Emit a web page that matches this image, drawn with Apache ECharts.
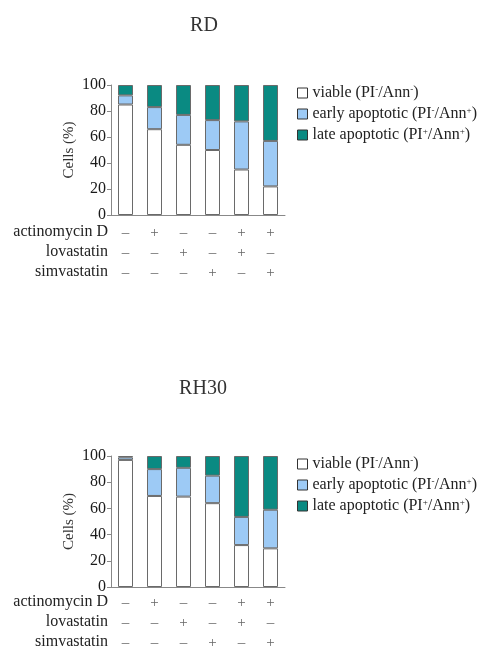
<!DOCTYPE html>
<html><head><meta charset="utf-8">
<script src="https://cdn.jsdelivr.net/npm/echarts@6/dist/echarts.min.js"></script>
<style>html,body{margin:0;padding:0;background:#fff}#c{width:481px;height:653px}</style>
</head><body><div id="c"></div>
<script>
const categories = ['1','2','3','4','5','6'];
const actinomycin = ['–','+','–','–','+','+'];
const lovastatin  = ['–','–','+','–','+','–'];
const simvastatin = ['–','–','–','+','–','+'];
const rowNames = ['actinomycin D','lovastatin','simvastatin'];
const yTicks = [0,20,40,60,80,100];
const titles = ['RD','RH30'];
const seriesNames = ['viable','early','late'];
// RD
const rdViable = [85,66,54,50,35,22];
const rdEarly  = [7,17,23,23,37,35];
const rdLate   = [8,17,23,27,28,43];
// RH30
const rhViable = [97,69.5,69,64,32,29.5];
const rhEarly  = [2,20.5,22,21,21.5,29.5];
const rhLate   = [1,10,9,15,46.5,41];

const FONT = '"Liberation Serif","Times New Roman",serif';
const colors = ['#ffffff','#9dcaf5','#0a8a82'];
const chart = echarts.init(document.getElementById('c'));

const gridTops = [85, 456];
const gridH = [130, 131];
const grids = gridTops.map((t,i)=>({left:111, width:174, top:t, height:gridH[i]}));

const xAxes = grids.map((g,i)=>({
  type:'category', gridIndex:i, data:categories,
  axisLine:{lineStyle:{color:'#888',width:1}},
  axisTick:{show:false},
  axisLabel:{
    margin: i===0?8:6, interval:0,
    fontFamily:FONT, fontSize:15, color:'#666', lineHeight:20,
    formatter:(v,idx)=>[actinomycin[idx],lovastatin[idx],simvastatin[idx]].join('\n')
  }
}));
const yAxes = grids.map((g,i)=>({
  type:'value', gridIndex:i, min:0, max:100, interval:20,
  name:'Cells (%)', nameLocation:'middle', nameGap:34, nameRotate:90,
  nameTextStyle:{fontFamily:FONT, fontSize:15, color:'#333'},
  axisLine:{show:true, lineStyle:{color:'#888'}},
  axisTick:{show:true, length:4, lineStyle:{color:'#888'}},
  splitLine:{show:false},
  axisLabel:{fontFamily:FONT, fontSize:16, color:'#1a1a1a', margin:5,
    formatter:v=>yTicks.includes(v)?String(v):''}
}));

const data = [[rdViable,rdEarly,rdLate],[rhViable,rhEarly,rhLate]];
const series = [];
data.forEach((set,gi)=>{
  set.forEach((vals,si)=>{
    series.push({
      type:'bar', name:seriesNames[si], stack:'s'+gi,
      xAxisIndex:gi, yAxisIndex:gi, data:vals, barWidth:15,
      itemStyle:{color:colors[si], borderColor:'#6a6a6a', borderWidth:1},
      emphasis:{disabled:true}
    });
  });
});

const rich = {
  n:{fontFamily:FONT, fontSize:16, color:'#222'},
  s:{fontFamily:FONT, fontSize:9, color:'#222', verticalAlign:'top', padding:[0,0,6,0]}
};
const legendFmt = {
  viable:'{n|viable (PI}{s|-}{n|/Ann}{s|-}{n|)}',
  early:'{n|early apoptotic (PI}{s|-}{n|/Ann}{s|+}{n|)}',
  late:'{n|late apoptotic (PI}{s|+}{n|/Ann}{s|+}{n|)}'
};
const legends = gridTops.map((t,i)=>({
  orient:'vertical', left:292, top:t-5, itemWidth:10, itemHeight:10, itemGap:5,
  icon:'rect', selectedMode:false,
  data:seriesNames,
  itemStyle:{borderColor:'#333', borderWidth:1},
  formatter:n=>legendFmt[n],
  textStyle:{rich:rich}
}));

const titleOpts = [{text:titles[0], left:199, top:11}, {text:titles[1], left:198, top:374}].map(o=>({
  text:o.text, left:o.left, top:o.top, textAlign:'center',
  textStyle:{fontFamily:FONT, fontSize:20, fontWeight:'normal', color:'#333'}
}));

const rowTops = [233, 603];
const graphics = [];
rowTops.forEach(y0=>{
  rowNames.forEach((r,k)=>{
    graphics.push({type:'text', right:481-108, top:y0+k*20-9,
      style:{text:r, font:'16px '+FONT, fill:'#222', textAlign:'right'}});
  });
});

chart.setOption({
  animation:false,
  title:titleOpts,
  grid:grids, xAxis:xAxes, yAxis:yAxes, series:series,
  legend:legends, graphic:graphics
});
</script></body></html>
